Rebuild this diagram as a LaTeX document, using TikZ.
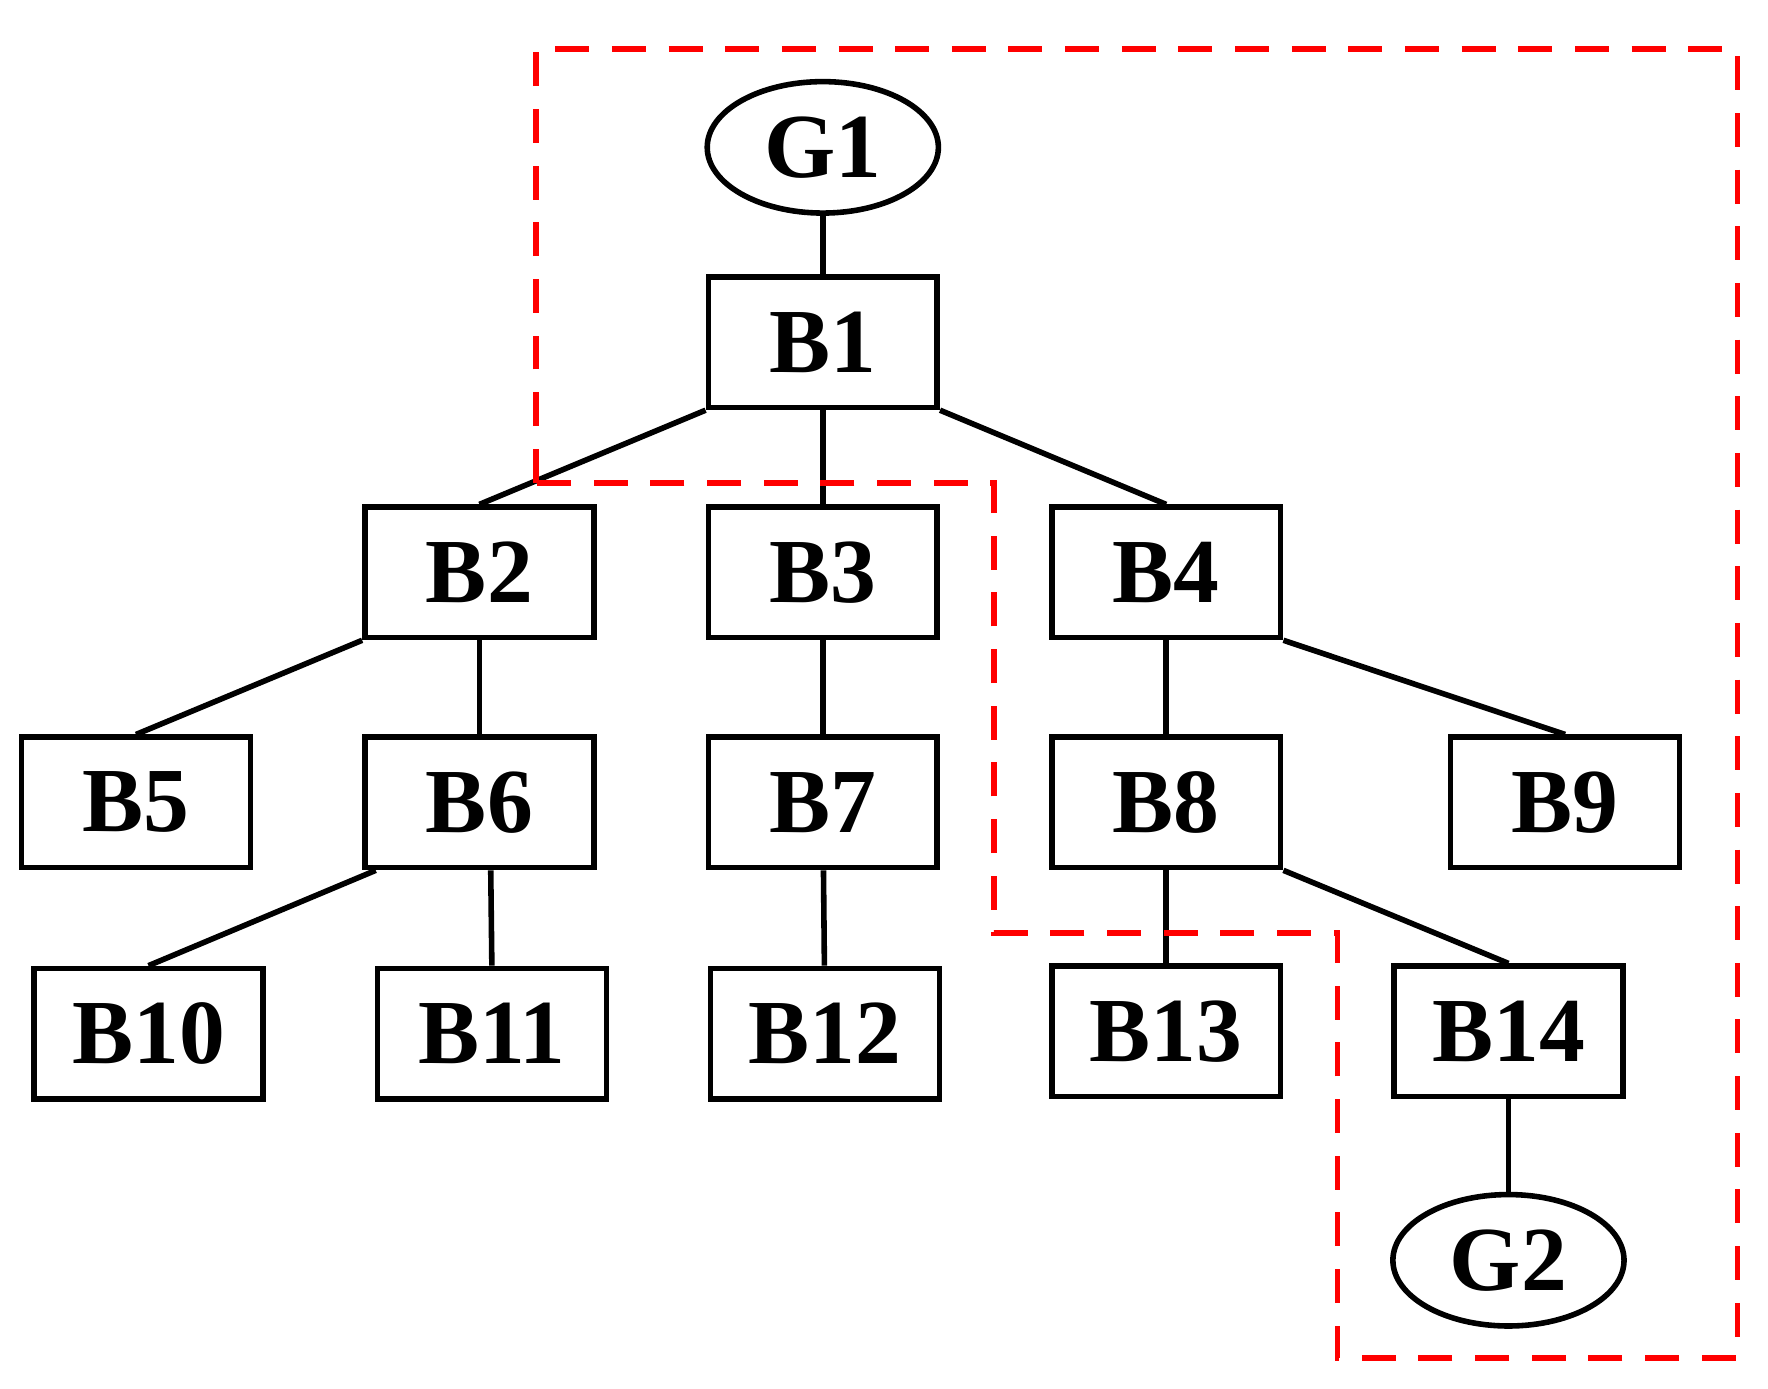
\documentclass[tikz,border=0pt]{standalone}
\usepackage{fontspec}
\setmainfont{Liberation Serif}
\usetikzlibrary{shapes.geometric}
\begin{document}
\begin{tikzpicture}[x=0.02cm,y=-0.02cm,
  box/.style={draw,line width=2.8pt,minimum width=4.04cm,minimum height=2.3cm,inner sep=0pt,font=\fontsize{46}{50}\selectfont\bfseries},
  oval/.style={draw,ellipse,line width=2.8pt,minimum width=4.08cm,minimum height=2.32cm,inner sep=0pt,font=\fontsize{46}{50}\selectfont\bfseries},
  edge/.style={line width=2.8pt},
  region/.style={red,line width=2.8pt,dash pattern=on 0.6cm off 0.4cm}]
\useasboundingbox (0,0) rectangle (1560,1225);
\node[oval] (G1) at (726,130) {G1};
\node[box] (B1) at (726,302) {B1};
\node[box] (B2) at (423,505) {B2};
\node[box] (B3) at (726,505) {B3};
\node[box] (B4) at (1029,505) {B4};
\node[box] (B5) at (120,708) {B5};
\node[box] (B6) at (423,708) {B6};
\node[box] (B7) at (726,708) {B7};
\node[box] (B8) at (1029,708) {B8};
\node[box] (B9) at (1381,708) {B9};
\node[box] (B10) at (131,912) {B10};
\node[box] (B11) at (434,912) {B11};
\node[box] (B12) at (728,912) {B12};
\node[box] (B13) at (1029,910) {B13};
\node[box] (B14) at (1331,910) {B14};
\node[oval] (G2) at (1331,1112) {G2};
\draw[edge] (G1) -- (B1);
\draw[edge] (B1.south west) -- (B2.north);
\draw[edge] (B1) -- (B3);
\draw[edge] (B1.south east) -- (B4.north);
\draw[edge] (B2.south west) -- (B5.north);
\draw[edge] (B2) -- (B6);
\draw[edge] (B3) -- (B7);
\draw[edge] (B4) -- (B8);
\draw[edge] (B4.south east) -- (B9.north);
\draw[edge] ([xshift=0.24cm]B6.south west) -- (B10.north);
\draw[edge] ([xshift=0.2cm]B6.south) -- (B11.north);
\draw[edge] (B7) -- (B12);
\draw[edge] (B8) -- (B13);
\draw[edge] (B8.south east) -- (B14.north);
\draw[edge] (B14) -- (G2);
\draw[region] (473,426) -- (473,43) -- (1533,43) -- (1533,1198) -- (1180,1198) -- (1180,823) -- (877,823) -- (877,426) -- cycle;
\end{tikzpicture}
\end{document}
